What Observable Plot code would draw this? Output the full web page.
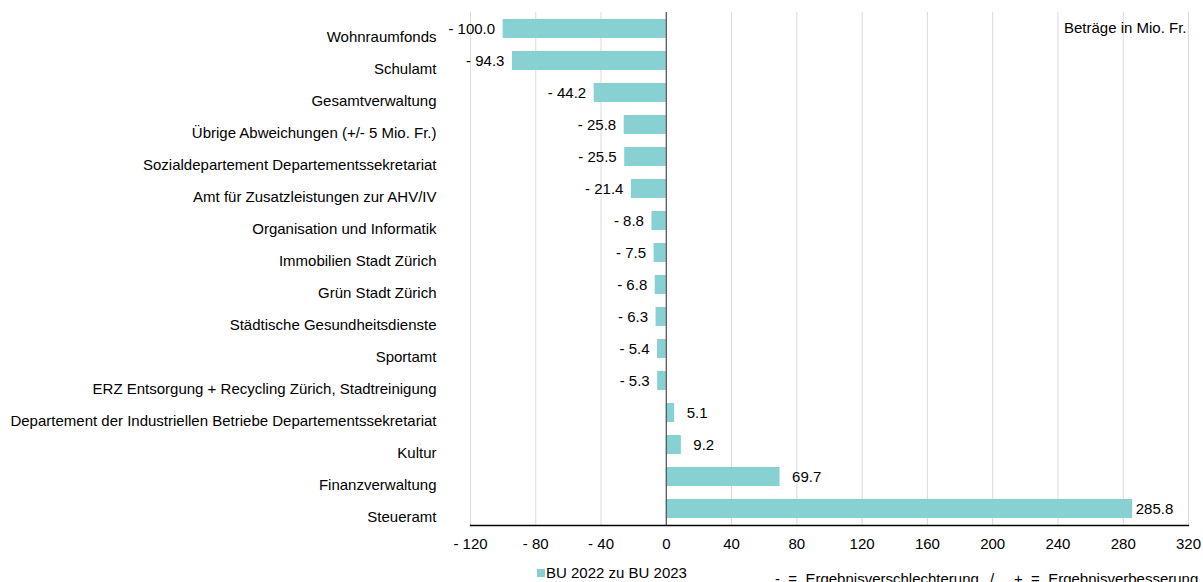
<!DOCTYPE html>
<html>
<head>
<meta charset="utf-8">
<script src="https://cdn.jsdelivr.net/npm/d3@7"></script>
<script src="https://cdn.jsdelivr.net/npm/@observablehq/plot@0.6"></script>
<style>
  html, body { margin: 0; padding: 0; background: #fff; }
  body { width: 1203px; height: 582px; overflow: hidden; font-family: "Liberation Sans", Arial, sans-serif; }
  #legend { position: relative; height: 22px; font-size: 15px; color: #000; }
  #legend .item { position: absolute; left: 537px; top: 4px; display: flex; align-items: center; }
  #legend .sw { width: 8px; height: 8px; background: #87d1d3; margin-right: 1px; }
  #legend .note { position: absolute; top: 10px; white-space: pre; }
</style>
</head>
<body>
<div id="chart"></div>
<div id="legend">
  <div class="item"><span class="sw"></span><span>BU 2022 zu BU 2023</span></div>
  <div class="note" style="left:775px">-  =  Ergebnisverschlechterung</div>
  <div class="note" style="left:990px">/</div>
  <div class="note" style="left:1014px">+  =  Ergebnisverbesserung</div>
</div>
<script>
const categories = [
  "Wohnraumfonds",
  "Schulamt",
  "Gesamtverwaltung",
  "Übrige Abweichungen (+/- 5 Mio. Fr.)",
  "Sozialdepartement Departementssekretariat",
  "Amt für Zusatzleistungen zur AHV/IV",
  "Organisation und Informatik",
  "Immobilien Stadt Zürich",
  "Grün Stadt Zürich",
  "Städtische Gesundheitsdienste",
  "Sportamt",
  "ERZ Entsorgung + Recycling Zürich, Stadtreinigung",
  "Departement der Industriellen Betriebe Departementssekretariat",
  "Kultur",
  "Finanzverwaltung",
  "Steueramt"
];
const values = [-100.0, -94.3, -44.2, -25.8, -25.5, -21.4, -8.8, -7.5, -6.8, -6.3, -5.4, -5.3, 5.1, 9.2, 69.7, 285.8];
const xTicks = [-120, -80, -40, 0, 40, 80, 120, 160, 200, 240, 280, 320];
const unitNote = "Beträge in Mio. Fr.";

const data = categories.map((c, i) => ({category: c, value: values[i]}));
const fmtSigned = v => (v < 0 ? "- " + Math.abs(v).toFixed(1) : v.toFixed(1));
const fmtTick = v => (v < 0 ? "- " + Math.abs(v) : String(v));
const barColor = "#87d1d3";
const fs = 15;

const chart = Plot.plot({
  width: 1203,
  height: 560,
  marginTop: 12,
  marginBottom: 35,
  marginLeft: 470,
  marginRight: 15,
  style: {fontFamily: "Liberation Sans, Arial, sans-serif", fontSize: fs + "px", color: "#000", background: "#fff"},
  x: {domain: [-120, 320], ticks: xTicks, tickFormat: fmtTick, label: null},
  y: {domain: categories, label: null, paddingInner: 0.4, paddingOuter: 0.2},
  marks: [
    Plot.ruleX(xTicks.filter(d => d !== 0), {stroke: "#d9d9d9", strokeWidth: 1}),
    Plot.barX(data, {x: "value", y: "category", fill: barColor}),
    Plot.ruleX([0], {stroke: "#595959", strokeWidth: 1.3}),
    Plot.axisX({ticks: xTicks, tickFormat: fmtTick, tickSize: 0, tickPadding: 13, label: null, fontSize: fs}),
    Plot.axisY({tickSize: 0, tickPadding: 34, label: null, dy: 8, fontSize: fs}),
    Plot.frame({anchor: "bottom", stroke: "#000", strokeWidth: 1.3}),
    Plot.text(data.filter(d => d.value < 0), {x: "value", y: "category", text: d => fmtSigned(d.value), textAnchor: "end", dx: -8, fontSize: fs}),
    Plot.text(data.filter(d => d.value > 0 && d.value < 250), {x: "value", y: "category", text: d => fmtSigned(d.value), textAnchor: "start", dx: 12, fontSize: fs}),
    Plot.text(data.filter(d => d.value >= 250), {x: "value", y: "category", text: d => fmtSigned(d.value), textAnchor: "start", dx: 3, fontSize: fs}),
    Plot.text([unitNote], {frameAnchor: "top-right", text: d => d, textAnchor: "end", dx: -2, dy: 10, fontSize: fs})
  ]
});
document.getElementById("chart").appendChild(chart);
</script>
</body>
</html>
